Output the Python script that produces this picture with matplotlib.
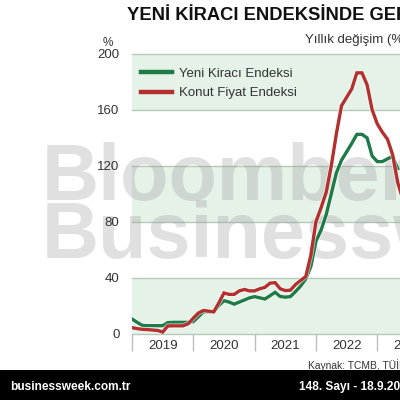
import matplotlib
matplotlib.use('Agg')
import matplotlib.pyplot as plt
import matplotlib.patheffects as pe
import numpy as np
from matplotlib.patches import Rectangle

plt.rcParams['font.family'] = ['Liberation Sans', 'DejaVu Sans']

# aylık yıllık değişim (%), Ocak 2019'dan itibaren
yeni_kiraci = [10.4, 8.0, 5.8, 5.6, 5.6, 5.6, 5.6, 7.8, 8.0, 8.0, 8.0, 8.0,
               8.5, 12.0, 15.6, 15.6, 15.6, 20.0, 23.5, 22.5, 21.0, 22.5, 24.0, 25.5,
               26.4, 25.5, 24.7, 27.0, 29.5, 26.5, 26.0, 26.4, 30.0, 34.0, 39.0, 48.0,
               66.0, 74.0, 85.0, 100.0, 115.0, 124.0, 130.0, 136.0, 142.5, 142.5, 140.0, 127.0,
               123.0, 123.0, 125.0, 126.7, 118.0]
konut_fiyat = [4.2, 3.5, 3.0, 2.8, 2.5, 2.2, 1.0, 5.4, 5.5, 5.5, 5.5, 7.0,
               11.0, 14.7, 16.5, 16.0, 15.5, 22.0, 29.0, 28.0, 28.0, 30.5, 31.5, 30.5,
               30.5, 32.0, 33.0, 36.0, 36.4, 32.0, 30.7, 31.0, 35.0, 38.0, 40.7, 56.0,
               80.0, 90.0, 101.0, 120.0, 143.0, 163.0, 169.0, 175.0, 186.5, 186.5, 178.0, 160.0,
               150.0, 144.0, 139.0, 128.0, 108.0, 96.0]
yillar = ['2019', '2020', '2021', '2022', '2023']
y_ticks = [0, 40, 80, 120, 160, 200]

green = '#1e7b48'
red = '#b3302f'
band = '#e4f2e8'
grid_c = '#b7c8bc'

fig = plt.figure(figsize=(4, 4), dpi=100)
fig.patch.set_facecolor('white')

# eksen: sol 132 px, 0 çizgisi y=333.5, 200 çizgisi y=54; sağ taraf kırpılmış
ax = fig.add_axes([132 / 400, 1 - 333.5 / 400, 306.6 / 400, (333.5 - 54) / 400])
ax.set_xlim(0, 60)
ax.set_ylim(0, 200)
ax.set_facecolor('white')

# yatay bantlar
for lo in [0, 80, 160]:
    ax.axhspan(lo, lo + 40, color=band, zorder=0, lw=0)
for t in y_ticks:
    ax.axhline(t, color=grid_c, lw=1.0, zorder=0.6, clip_on=False)

# filigran
wm = dict(transform=fig.transFigure, fontsize=57, fontweight='bold', color='#9a9a9a',
          alpha=0.3, zorder=1, clip_on=False, ha='left', va='baseline')
ax.text(42 / 400, 1 - 200 / 400, 'Bloomberg', **wm)
ax.text(42 / 400, 1 - 258 / 400, 'Businessweek', **wm)

x_g = np.arange(len(yeni_kiraci))
x_r = np.arange(len(konut_fiyat))
halo = [pe.Stroke(linewidth=3.6, foreground='white', alpha=0.6), pe.Normal()]
ax.plot(x_g, yeni_kiraci, color=green, lw=2.4, zorder=3, solid_joinstyle='miter',
        label='Yeni Kiracı Endeksi', path_effects=halo)
ax.plot(x_r, konut_fiyat, color=red, lw=2.4, zorder=4, solid_joinstyle='miter',
        label='Konut Fiyat Endeksi', path_effects=halo)

for s in ax.spines.values():
    s.set_visible(False)

ax.set_yticks(y_ticks)
ax.set_yticklabels([str(t) for t in y_ticks])
ax.tick_params(axis='y', length=0, pad=9, labelsize=9.5, labelcolor='#333333')

ax.set_xticks([0, 12, 24, 36, 48, 60])
ax.set_xticklabels([])
ax.tick_params(axis='x', which='major', length=12, width=1.0, color='#bdbdbd', direction='out', pad=0)
ax.set_xticks([6, 18, 30, 42, 54], minor=True)
ax.set_xticklabels(yillar, minor=True)
ax.tick_params(axis='x', which='minor', length=0, pad=5, labelsize=9.5, labelcolor='#333333')

leg = ax.legend(loc='upper left', bbox_to_anchor=(0.0, 0.985), frameon=False, fontsize=9.5,
                handlelength=2.3, handletextpad=0.55, labelspacing=0.55, borderaxespad=0.3)
for t in leg.get_texts():
    t.set_color('#333333')
for h in leg.get_lines():
    h.set_linewidth(3.2)
    h.set_path_effects([])

# başlıklar
fig.text(127 / 400, 1 - 16 / 400, 'YENİ KİRACI ENDEKSİNDE GERİLEME', fontsize=13.2,
         fontweight='bold', color='#111111', ha='left', va='center')
fig.text(305 / 400, 1 - 40 / 400, 'Yıllık değişim (%)', fontsize=9.5, color='#333333',
         ha='left', va='center')
fig.text(108 / 400, 1 - 43 / 400, '%', fontsize=8.5, color='#333333', ha='center', va='center')
fig.text(308 / 400, 1 - 365 / 400, 'Kaynak: TCMB, TÜİK', fontsize=7.4, color='#333333',
         ha='left', va='center')

# alt şerit
fig.patches.append(Rectangle((0, 0), 1, 30 / 400, transform=fig.transFigure,
                             facecolor='black', edgecolor='none', zorder=5))
fig.text(10 / 400, 1 - 387 / 400, 'businessweek.com.tr', fontsize=8.6, fontweight='bold',
         color='white', ha='left', va='center', zorder=6)
fig.text(299 / 400, 1 - 387 / 400, '148. Sayı - 18.9.2023', fontsize=8.6, fontweight='bold',
         color='white', ha='left', va='center', zorder=6)

plt.savefig('out.png', dpi=100)
plt.close()
